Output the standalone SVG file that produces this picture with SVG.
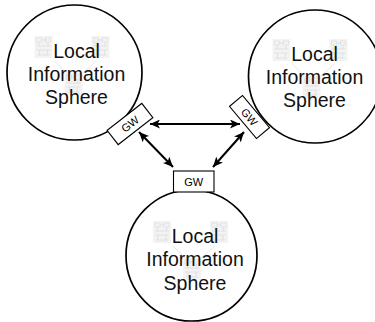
<svg xmlns="http://www.w3.org/2000/svg" xmlns:xlink="http://www.w3.org/1999/xlink" width="375" height="322" viewBox="0 0 375 322">
  <style>
    .sphere { fill: #fff; stroke: #000; stroke-width: 1.7; }
    .label { font-family: "Liberation Sans", Arial, sans-serif; font-size: 19.5px; fill: #111; text-anchor: middle; }
    .gw rect { fill: #fff; stroke: #000; stroke-width: 1.1; }
    .gw text { font-family: "Liberation Sans", Arial, sans-serif; font-size: 11px; fill: #000; text-anchor: middle; }
    .link { stroke: #000; stroke-width: 2; fill: none; marker-start: url(#head); marker-end: url(#head); }
    .ico rect.bg { fill: #efefef; }
    .ico path { stroke: #cfcfcf; stroke-width: 0.8; fill: none; }
    .ico rect.box { fill: none; stroke: #d0d0d0; stroke-width: 0.7; }
    .tie { stroke: #dcdcdc; stroke-width: 1; fill: none; }
  </style>
  <defs>
    <marker id="head" markerUnits="userSpaceOnUse" markerWidth="11" markerHeight="9" refX="10" refY="4.5" orient="auto-start-reverse">
      <path d="M0,0 L10,4.5 L0,9 L2.5,4.5 Z" fill="#000"/>
    </marker>
    <filter id="soft" x="-20%" y="-20%" width="140%" height="140%">
      <feGaussianBlur stdDeviation="0.7"/>
    </filter>
    <!-- small faded network sketch -->
    <g id="mini" class="ico">
      <rect class="bg" x="0" y="0" width="18" height="22"/>
      <rect class="box" x="2" y="2" width="5" height="4"/>
      <rect class="box" x="11" y="2" width="5" height="4"/>
      <path d="M7,4 H11 M4.5,6 V10 M13.5,6 V10 M2,10 H16 M2,14 H16 M5,14 V19 M13,14 V19 M3,19 H15"/>
    </g>
    <!-- background sketch: two nodes over a shared one -->
    <g id="sketch" filter="url(#soft)" opacity="0.7">
      <use xlink:href="#mini" x="-42" y="-45"/>
      <use xlink:href="#mini" x="15" y="-45"/>
      <path class="tie" d="M-22,-20 L-10,-8 M20,-20 L6,-8"/>
      <use xlink:href="#mini" x="-12" y="-8"/>
    </g>
  </defs>

  <!-- information spheres -->
  <g id="sphere-left">
    <circle class="sphere" cx="74.5" cy="72.5" r="67.5"/>
    <use xlink:href="#sketch" x="76.5" y="81"/>
    <text class="label" x="76.5" y="57.5">Local</text>
    <text class="label" x="76.5" y="81">Information</text>
    <text class="label" x="76.5" y="104">Sphere</text>
  </g>
  <g id="sphere-right">
    <circle class="sphere" cx="315" cy="76.5" r="66.5"/>
    <use xlink:href="#sketch" x="314.5" y="84"/>
    <text class="label" x="314.5" y="60.5">Local</text>
    <text class="label" x="314.5" y="84">Information</text>
    <text class="label" x="314.5" y="107">Sphere</text>
  </g>
  <g id="sphere-bottom">
    <circle class="sphere" cx="191.5" cy="255.5" r="65.5"/>
    <use xlink:href="#sketch" x="195" y="266"/>
    <text class="label" x="195" y="243">Local</text>
    <text class="label" x="195" y="266">Information</text>
    <text class="label" x="195" y="289.5">Sphere</text>
  </g>

  <!-- gateways -->
  <g id="gw-left" class="gw" transform="translate(130,124) rotate(-38)">
    <rect x="-22" y="-9" width="44" height="18"/>
    <text x="0" y="4">GW</text>
  </g>
  <g id="gw-right" class="gw" transform="translate(249.5,117) rotate(50)">
    <rect x="-21" y="-8.5" width="42" height="17"/>
    <text x="0" y="4">GW</text>
  </g>
  <g id="gw-bottom" class="gw">
    <rect x="173.5" y="171" width="40.5" height="21"/>
    <text x="193.7" y="185.5">GW</text>
  </g>

  <!-- gateway links -->
  <g id="connectors">
    <line class="link" x1="150" y1="124" x2="240" y2="124"/>
    <line class="link" x1="139" y1="132" x2="173" y2="167"/>
    <line class="link" x1="244" y1="132" x2="213" y2="167"/>
  </g>
</svg>
